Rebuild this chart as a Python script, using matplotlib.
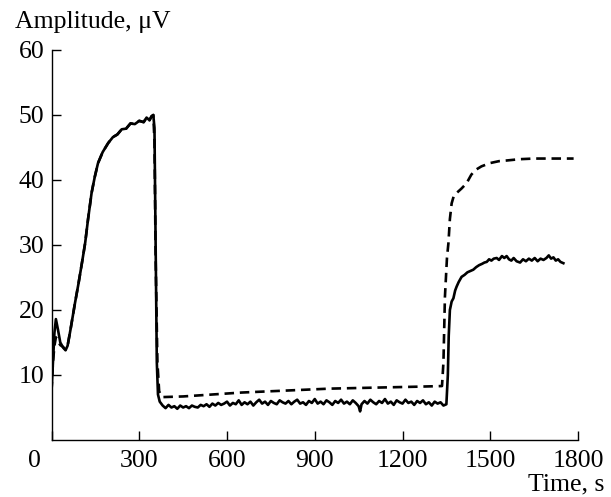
import matplotlib.pyplot as plt

plt.rcParams["font.family"] = ["Liberation Serif", "DejaVu Serif"]

# solid trace
t_solid = [0, 5, 10, 15, 22, 30, 40, 48, 55, 65, 80, 92, 105, 115, 125, 137, 148,
           159, 175, 194, 210, 225, 240, 255, 270, 285, 300, 315, 325, 335, 342,
           348, 352, 356, 360, 364, 370,
           380, 390, 400, 410, 420, 430, 440, 450, 460, 470, 480, 490, 500, 510,
           520, 530, 540, 550, 560, 570, 580, 590, 600, 610, 620, 630, 640, 650,
           660, 670, 680, 690, 700, 710, 720, 730, 740, 750, 760, 770, 780, 790,
           800, 810, 820, 830, 840, 850, 860, 870, 880, 890, 900, 910, 920, 930,
           940, 950, 960, 970, 980, 990, 1000, 1010, 1020, 1030, 1040, 1050, 1055,
           1060, 1070, 1080, 1090, 1100, 1110, 1120, 1130, 1140, 1150, 1160, 1170,
           1180, 1190, 1200, 1210, 1220, 1230, 1240, 1250, 1260, 1270, 1280, 1290,
           1300, 1310, 1320, 1330, 1340, 1350,
           1355, 1358, 1362, 1368, 1374, 1380, 1385, 1392, 1402, 1412, 1422, 1432,
           1442, 1452, 1462, 1472, 1480, 1488, 1496, 1504, 1512, 1522, 1530, 1540,
           1548, 1556, 1564, 1572, 1580, 1590, 1602, 1612, 1622, 1632, 1642, 1652,
           1662, 1672, 1682, 1692, 1700, 1708, 1716, 1724, 1732, 1740, 1750]
a_solid = [7.5, 12.0, 16.5, 18.6, 17.0, 15.0, 14.2, 13.8, 14.5, 17.0, 21.0, 24.0,
           27.5, 30.3, 34.0, 38.0, 40.5, 42.6, 44.3, 45.7, 46.6, 47.0, 47.8, 47.9,
           48.7, 48.6, 49.1, 48.9, 49.6, 49.2, 49.8, 50.0, 48.0, 30.0, 12.0, 7.0, 5.9,
           5.3, 4.9, 5.4, 5.0, 5.2, 4.8, 5.3, 5.0, 5.2, 4.9, 5.3, 5.1, 5.0, 5.4,
           5.2, 5.5, 5.1, 5.6, 5.3, 5.7, 5.4, 5.6, 5.9, 5.3, 5.7, 5.5, 6.1, 5.4,
           5.8, 5.5, 5.9, 5.3, 5.8, 6.2, 5.6, 5.9, 5.4, 6.0, 5.7, 5.5, 6.1, 5.8,
           5.6, 6.0, 5.5, 5.9, 6.2, 5.6, 5.8, 5.4, 6.0, 5.7, 6.3, 5.6, 5.9, 5.5,
           6.1, 5.8, 5.4, 6.0, 5.7, 6.2, 5.6, 5.9, 5.5, 6.1, 5.7, 5.2, 4.4,
           5.5, 6.0, 5.6, 6.2, 5.8, 5.5, 6.0, 5.7, 6.3, 5.6, 5.9, 5.4,
           6.1, 5.8, 5.6, 6.2, 5.7, 5.9, 5.4, 6.0, 5.7, 6.1, 5.5, 5.8,
           5.3, 5.9, 5.6, 5.8, 5.3, 5.5,
           10.0, 16.0, 20.0, 21.3, 21.8, 23.0, 23.6, 24.3, 25.1, 25.4, 25.8, 26.0,
           26.2, 26.6, 26.9, 27.1, 27.3, 27.4, 27.8, 27.6, 27.9, 28.0, 27.7, 28.3,
           28.0, 28.3, 27.8, 27.6, 28.0, 27.5, 27.3, 27.8, 27.5, 27.9, 27.6, 28.0,
           27.5, 27.9, 27.7, 28.0, 28.4, 27.9, 28.1, 27.6, 27.8, 27.4, 27.2]

# dashed trace
t_dash = [0, 5, 10, 15, 22, 30, 40, 48, 55, 65, 80, 92, 105, 115, 125, 137, 148,
          159, 175, 194, 210, 225, 240, 255, 270, 285, 300, 315, 325, 335, 342,
          348, 352, 356, 362, 368, 375, 380, 450, 550, 650, 750, 850, 950, 1050,
          1150, 1250, 1335, 1340, 1345, 1352, 1357, 1362, 1368, 1375, 1385, 1402,
          1419, 1435, 1448, 1470, 1499, 1530, 1556, 1600, 1650, 1700, 1785]
a_dash = [7.5, 12.0, 14.5, 15.8, 15.2, 14.6, 14.3, 13.9, 14.5, 17.0, 21.0, 24.0,
          27.5, 30.3, 34.0, 38.0, 40.5, 42.6, 44.3, 45.7, 46.6, 47.0, 47.8, 47.9,
          48.7, 48.6, 49.1, 48.9, 49.6, 49.2, 49.8, 50.0, 46.0, 28.0, 12.0, 7.5,
          6.8, 6.6, 6.7, 7.0, 7.3, 7.5, 7.7, 7.9, 8.0, 8.1, 8.2, 8.3, 12.0, 22.0,
          28.0, 30.3, 34.0, 36.4, 37.5, 38.0, 38.7, 39.5, 40.8, 41.5, 42.1, 42.6,
          42.9, 43.0, 43.2, 43.3, 43.3, 43.3]

x_ticks = [0, 300, 600, 900, 1200, 1500, 1800]
x_labels = ["", "300", "600", "900", "1200", "1500", "1800"]
y_ticks = [10, 20, 30, 40, 50, 60]

fs = 18.5

fig = plt.figure(figsize=(6.11, 4.97), dpi=100)
ax = fig.add_axes([0.0843, 0.1147, 0.8617, 0.7847])

ax.plot(t_dash, a_dash, color="black", linewidth=1.9, dashes=(3.6, 2.2))
ax.plot(t_solid, a_solid, color="black", linewidth=1.9)

ax.set_xlim(0, 1800)
ax.set_ylim(0, 60)
ax.set_xticks(x_ticks)
ax.set_xticklabels(x_labels)
ax.set_yticks(y_ticks)
ax.tick_params(direction="in", length=6.5, width=1, labelsize=fs, pad=5)
ax.tick_params(axis="x", pad=7)

for side in ["top", "right"]:
    ax.spines[side].set_visible(False)
for side in ["left", "bottom"]:
    ax.spines[side].set_linewidth(1)

# origin label sits left of the corner
ax.annotate("0", xy=(0, 0), xycoords="data", xytext=(-12, -7),
            textcoords="offset points", ha="center", va="top", fontsize=fs)

fig.text(15 / 611, 1 - 28 / 497, "Amplitude, \u03bcV", fontsize=fs, ha="left",
         va="baseline")
fig.text(604 / 611, 1 - 490 / 497, "Time, s", fontsize=fs, ha="right",
         va="baseline")

fig.savefig("out.png", dpi=100)
